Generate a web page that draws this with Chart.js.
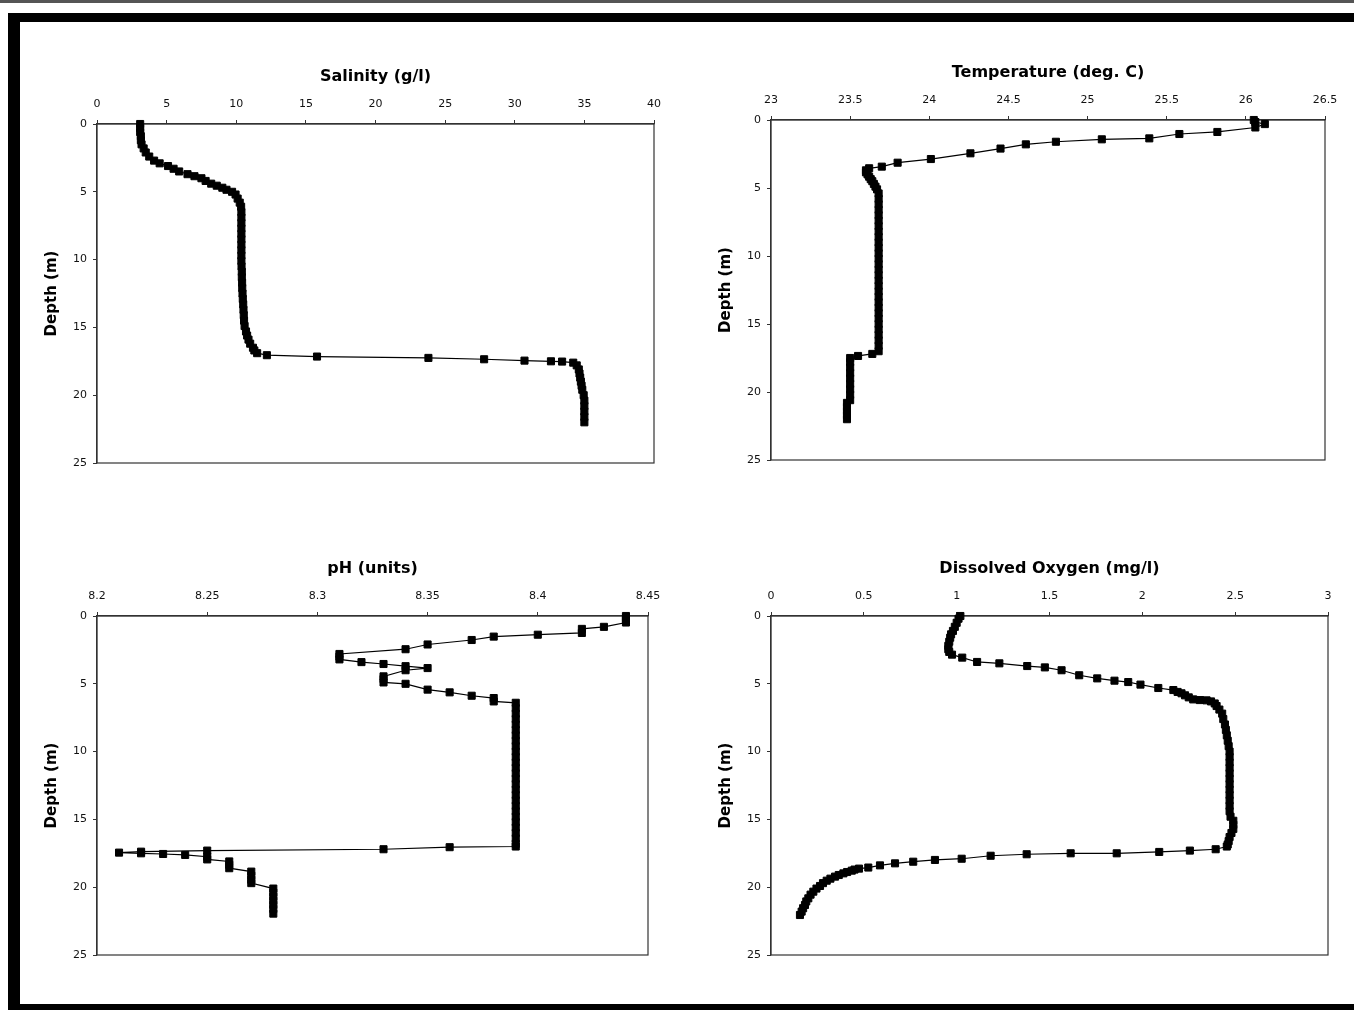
<!DOCTYPE html>
<html>
<head>
<meta charset="utf-8">
<title>Depth profiles</title>
<script src="https://cdn.jsdelivr.net/npm/chart.js@4.4.0/dist/chart.umd.min.js"></script>
<style>
  body { margin: 0; background: #fff; width: 1354px; height: 1010px; position: relative; overflow: hidden; }
  .bar { position: absolute; background: #000; }
  canvas { position: absolute; }
</style>
</head>
<body>
<div class="bar" style="left:0;top:0;width:1354px;height:3px;background:#555"></div>
<div class="bar" style="left:8px;top:13px;width:1346px;height:9px"></div>
<div class="bar" style="left:8px;top:13px;width:12px;height:997px"></div>
<div class="bar" style="left:8px;top:1004px;width:1346px;height:6px"></div>

<canvas id="salinityChart"></canvas>
<canvas id="temperatureChart"></canvas>
<canvas id="phChart"></canvas>
<canvas id="oxygenChart"></canvas>

<script>
'use strict';

//****************************************
//          DATA
// ****************************************

// depth in m, value at that depth
let salinityDepth = [
  0.0, 0.3, 0.6, 0.9, 1.2, 1.5, 1.8, 2.1, 2.4, 2.7,
  2.9, 3.1, 3.3, 3.5, 3.7, 3.85, 4.0, 4.2, 4.4, 4.55,
  4.7, 4.85, 5.0, 5.2, 5.5, 5.8, 6.1, 6.5, 6.9, 7.3,
  7.7, 8.1, 8.5, 8.9, 9.3, 9.7, 10.1, 10.5, 10.9, 11.3,
  11.7, 12.1, 12.5, 12.9, 13.3, 13.7, 14.1, 14.5, 14.9, 15.3,
  15.6, 15.9, 16.2, 16.5, 16.7, 16.9, 17.05, 17.15, 17.25, 17.35,
  17.45, 17.5, 17.52, 17.6, 17.8, 18.1, 18.4, 18.7, 19.0, 19.3,
  19.6, 20.0, 20.4, 20.8, 21.2, 21.6, 22.0
];
let salinityValue = [
  3.1, 3.1, 3.1, 3.15, 3.15, 3.2, 3.35, 3.5, 3.75, 4.1,
  4.5, 5.1, 5.5, 5.9, 6.5, 7.0, 7.5, 7.8, 8.2, 8.6,
  9.0, 9.3, 9.7, 9.95, 10.1, 10.25, 10.35, 10.37, 10.37, 10.37,
  10.37, 10.37, 10.37, 10.37, 10.37, 10.37, 10.37, 10.38, 10.4, 10.4,
  10.42, 10.43, 10.45, 10.47, 10.5, 10.52, 10.54, 10.56, 10.6, 10.7,
  10.78, 10.88, 11.0, 11.2, 11.3, 11.5, 12.2, 15.8, 23.8, 27.8,
  30.7, 32.6, 33.4, 34.2, 34.45, 34.6, 34.65, 34.7, 34.75, 34.8,
  34.85, 34.95, 35.0, 35.0, 35.0, 35.0, 35.0
];

let temperatureDepth = [
  0.0, 0.15, 0.3, 0.55, 0.88, 1.03, 1.35, 1.42, 1.6, 1.79,
  2.1, 2.45, 2.87, 3.14, 3.43, 3.55, 3.7, 3.85, 4.0, 4.17,
  4.35, 4.5, 4.7, 4.9, 5.1, 5.4, 5.8, 6.2, 6.6, 7.0,
  7.4, 7.8, 8.2, 8.6, 9.0, 9.4, 9.8, 10.2, 10.6, 11.0,
  11.4, 11.8, 12.2, 12.6, 13.0, 13.4, 13.8, 14.2, 14.6, 15.0,
  15.4, 15.8, 16.2, 16.6, 17.0, 17.2, 17.35, 17.5, 17.8, 18.2,
  18.6, 19.0, 19.4, 19.8, 20.2, 20.6, 20.8, 21.1, 21.4, 21.7,
  22.0
];
let temperatureValue = [
  26.05, 26.06, 26.12, 26.06, 25.82, 25.58, 25.39, 25.09, 24.80, 24.61,
  24.45, 24.26, 24.01, 23.80, 23.70, 23.62, 23.60, 23.60, 23.61, 23.62,
  23.63, 23.64, 23.65, 23.66, 23.67, 23.68, 23.68, 23.68, 23.68, 23.68,
  23.68, 23.68, 23.68, 23.68, 23.68, 23.68, 23.68, 23.68, 23.68, 23.68,
  23.68, 23.68, 23.68, 23.68, 23.68, 23.68, 23.68, 23.68, 23.68, 23.68,
  23.68, 23.68, 23.68, 23.68, 23.68, 23.64, 23.55, 23.50, 23.50, 23.50,
  23.50, 23.50, 23.50, 23.50, 23.50, 23.50, 23.48, 23.48, 23.48, 23.48,
  23.48
];

let phDepth = [
  0.0, 0.16, 0.32, 0.48, 0.8, 0.95, 1.25, 1.38, 1.52, 1.77,
  2.1, 2.45, 2.8, 3.0, 3.2, 3.4, 3.54, 3.7, 3.84, 4.0,
  4.45, 4.65, 4.9, 5.0, 5.43, 5.63, 5.88, 6.05, 6.3, 6.4,
  6.8, 7.2, 7.6, 8.0, 8.4, 8.8, 9.2, 9.6, 10.0, 10.4,
  10.8, 11.2, 11.6, 12.0, 12.4, 12.8, 13.2, 13.6, 14.0, 14.4,
  14.8, 15.2, 15.6, 16.0, 16.4, 16.8, 17.0, 17.05, 17.2, 17.3,
  17.38, 17.45, 17.5, 17.55, 17.62, 17.75, 17.95, 18.1, 18.35, 18.6,
  18.85, 19.15, 19.45, 19.7, 20.1, 20.4, 20.7, 21.0, 21.3, 21.6,
  21.95
];
let phValue = [
  8.44, 8.44, 8.44, 8.44, 8.43, 8.42, 8.42, 8.40, 8.38, 8.37,
  8.35, 8.34, 8.31, 8.31, 8.31, 8.32, 8.33, 8.34, 8.35, 8.34,
  8.33, 8.33, 8.33, 8.34, 8.35, 8.36, 8.37, 8.38, 8.38, 8.39,
  8.39, 8.39, 8.39, 8.39, 8.39, 8.39, 8.39, 8.39, 8.39, 8.39,
  8.39, 8.39, 8.39, 8.39, 8.39, 8.39, 8.39, 8.39, 8.39, 8.39,
  8.39, 8.39, 8.39, 8.39, 8.39, 8.39, 8.39, 8.36, 8.33, 8.25,
  8.22, 8.21, 8.22, 8.23, 8.24, 8.25, 8.25, 8.26, 8.26, 8.26,
  8.27, 8.27, 8.27, 8.27, 8.28, 8.28, 8.28, 8.28, 8.28, 8.28,
  8.28
];

let oxygenDepth = [
  0.0, 0.2, 0.5, 0.8, 1.1, 1.35, 1.6, 1.9, 2.2, 2.45,
  2.65, 2.85, 3.07, 3.39, 3.49, 3.69, 3.79, 4.0, 4.37, 4.6,
  4.77, 4.87, 5.06, 5.31, 5.46, 5.6, 5.7, 5.85, 6.0, 6.15,
  6.2, 6.22, 6.3, 6.45, 6.64, 6.9, 7.2, 7.6, 8.0, 8.4,
  8.8, 9.2, 9.6, 10.0, 10.4, 10.8, 11.2, 11.6, 12.0, 12.4,
  12.8, 13.2, 13.6, 14.0, 14.4, 14.8, 15.1, 15.4, 15.7, 16.0,
  16.3, 16.6, 16.85, 17.0, 17.2, 17.3, 17.4, 17.5, 17.5, 17.57,
  17.68, 17.9, 17.99, 18.12, 18.24, 18.39, 18.55, 18.63, 18.7, 18.78,
  18.88, 18.98, 19.1, 19.22, 19.37, 19.52, 19.7, 19.91, 20.1, 20.33,
  20.55, 20.82, 21.05, 21.31, 21.55, 21.8, 22.05
];
let oxygenValue = [
  1.02, 1.01, 1.0, 0.99, 0.98, 0.97, 0.965, 0.96, 0.955, 0.955,
  0.96, 0.975, 1.03, 1.11, 1.23, 1.38, 1.475, 1.565, 1.66, 1.757,
  1.85, 1.924, 1.99, 2.086, 2.167, 2.19, 2.211, 2.23, 2.25, 2.274,
  2.31, 2.346, 2.37, 2.39, 2.40, 2.415, 2.43, 2.436, 2.445, 2.45,
  2.455, 2.46, 2.465, 2.47, 2.47, 2.47, 2.47, 2.47, 2.47, 2.47,
  2.47, 2.47, 2.47, 2.47, 2.47, 2.475, 2.49, 2.49, 2.49, 2.48,
  2.47, 2.465, 2.46, 2.455, 2.395, 2.256, 2.091, 1.862, 1.614, 1.377,
  1.183, 1.027, 0.883, 0.766, 0.668, 0.587, 0.524, 0.474, 0.45, 0.435,
  0.41, 0.39, 0.365, 0.345, 0.32, 0.30, 0.28, 0.264, 0.245, 0.228,
  0.213, 0.201, 0.19, 0.183, 0.173, 0.165, 0.156
];

// axis ranges
let depthTicks = { min: 0, max: 25, step: 5 };
let salinityTicks = { min: 0, max: 40, step: 5 };
let temperatureTicks = { min: 23, max: 26.5, step: 0.5 };
let phTicks = { min: 8.2, max: 8.45, step: 0.05 };
let oxygenTicks = { min: 0, max: 3, step: 0.5 };

//****************************************
//            HELPER FUNCTIONS
//****************************************

const Y_AXIS_W = 67;
const TOP_H = 74;
const RIGHT_PAD = 34;
const BOTTOM_PAD = 17;

// box round the plot area (Excel style)
const plotFrame = {
  id: 'plotFrame',
  beforeDatasetsDraw(chart) {
    let a = chart.chartArea;
    let ctx = chart.ctx;
    ctx.save();
    ctx.strokeStyle = '#333';
    ctx.lineWidth = 1.2;
    ctx.strokeRect(a.left, a.top, a.right - a.left, a.bottom - a.top);
    ctx.restore();
  }
};

function tickFont() {
  return { family: 'DejaVu Sans', size: 11 };
}

// 23.0 -> "23", 8.250 -> "8.25"
function shortLabel(v) {
  return String(parseFloat(Number(v).toFixed(3)));
}

function makeProfile(id, plotBox, title, xRange, depths, values) {
  let canvas = document.getElementById(id);
  canvas.width = plotBox.w + Y_AXIS_W + RIGHT_PAD;
  canvas.height = plotBox.h + TOP_H + BOTTOM_PAD;
  canvas.style.left = (plotBox.x - Y_AXIS_W) + 'px';
  canvas.style.top = (plotBox.y - TOP_H) + 'px';

  let points = depths.map((d, i) => ({ x: values[i], y: d }));

  new Chart(canvas, {
    type: 'scatter',
    data: {
      datasets: [{
        data: points,
        showLine: true,
        borderColor: '#000',
        borderWidth: 1.2,
        pointStyle: 'rect',
        pointRadius: 5,
        pointBackgroundColor: '#000',
        pointBorderColor: '#000',
        pointBorderWidth: 1,
        tension: 0,
        clip: false
      }]
    },
    options: {
      responsive: false,
      animation: false,
      devicePixelRatio: 1,
      layout: { padding: { left: 0, right: RIGHT_PAD, top: 0, bottom: BOTTOM_PAD } },
      plugins: {
        legend: { display: false },
        tooltip: { enabled: false },
        title: {
          display: true,
          fullSize: false,
          text: title,
          color: '#000',
          font: { family: 'DejaVu Sans', size: 16, weight: 'bold' },
          padding: { top: 17.4, bottom: 0 }
        }
      },
      scales: {
        x: {
          type: 'linear',
          position: 'top',
          min: xRange.min,
          max: xRange.max,
          ticks: { stepSize: xRange.step, padding: 9, color: '#111', font: tickFont(), callback: shortLabel },
          grid: { drawOnChartArea: false, tickLength: 4, color: '#333' },
          border: { color: '#333', width: 1.2 },
          afterFit: (s) => { s.height = 37.4; }
        },
        y: {
          type: 'linear',
          reverse: true,
          min: depthTicks.min,
          max: depthTicks.max,
          ticks: { stepSize: depthTicks.step, padding: 6, color: '#111', font: tickFont(), callback: shortLabel },
          grid: { drawOnChartArea: false, tickLength: 4, color: '#333' },
          border: { color: '#333', width: 1.2 },
          title: {
            display: true,
            text: 'Depth (m)',
            color: '#000',
            font: { family: 'DejaVu Sans', size: 15, weight: 'bold' },
            padding: { top: 13, bottom: 0 }
          },
          afterFit: (s) => { s.width = Y_AXIS_W; }
        }
      }
    },
    plugins: [plotFrame]
  });
}

// *********************************************
//              CHART RENDERING
// *********************************************

makeProfile('salinityChart', { x: 97, y: 124, w: 557, h: 339 }, 'Salinity (g/l)', salinityTicks, salinityDepth, salinityValue);
makeProfile('temperatureChart', { x: 771, y: 120, w: 554, h: 340 }, 'Temperature (deg. C)', temperatureTicks, temperatureDepth, temperatureValue);
makeProfile('phChart', { x: 97, y: 616, w: 551, h: 339 }, 'pH (units)', phTicks, phDepth, phValue);
makeProfile('oxygenChart', { x: 771, y: 616, w: 557, h: 339 }, 'Dissolved Oxygen (mg/l)', oxygenTicks, oxygenDepth, oxygenValue);
</script>
</body>
</html>
